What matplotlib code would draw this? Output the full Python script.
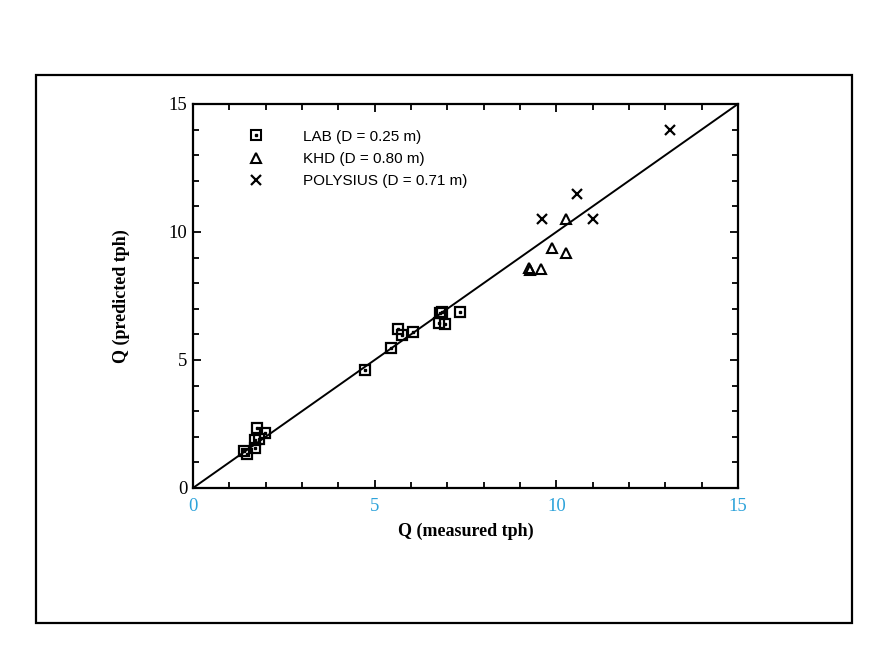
import matplotlib
matplotlib.use("Agg")
import matplotlib.pyplot as plt
from matplotlib.lines import Line2D
from matplotlib.patches import Rectangle
from matplotlib.ticker import MultipleLocator

# Data
lab_x = [1.48, 1.41, 1.72, 1.71, 1.83, 1.77, 1.97, 4.74, 5.45, 5.64, 5.76, 6.06,
         6.80, 6.86, 6.76, 6.94, 7.35]
lab_y = [1.33, 1.46, 1.55, 1.88, 1.90, 2.36, 2.16, 4.61, 5.47, 6.20, 5.96, 6.11,
         6.82, 6.86, 6.43, 6.40, 6.89]
khd_x = [9.26, 9.28, 9.58, 9.87, 10.28, 10.28]
khd_y = [8.58, 8.52, 8.55, 9.38, 9.17, 10.51]
pol_x = [9.62, 10.58, 11.01, 13.14]
pol_y = [10.51, 11.47, 10.51, 13.97]
line_x = [0, 15]
line_y = [0, 15]
xticks = [0, 5, 10, 15]
yticks = [0, 5, 10, 15]
labels = ["LAB (D = 0.25 m)", "KHD (D = 0.80 m)", "POLYSIUS (D = 0.71 m)"]

fig = plt.figure(figsize=(8.86, 6.56), dpi=100)
fig.patch.set_facecolor("white")

# outer frame
fig.add_artist(Rectangle((0.0406, 0.0503), 0.921, 0.8354, transform=fig.transFigure,
                         fill=False, edgecolor="black", linewidth=1.6))

ax = fig.add_axes([0.2178, 0.2561, 0.6151, 0.5854])
ax.set_xlim(0, 15)
ax.set_ylim(0, 15)

ax.plot(line_x, line_y, color="black", linewidth=1.4, zorder=2)

ax.plot(lab_x, lab_y, linestyle="none", marker="s", markersize=7.5,
        markerfacecolor="none", markeredgecolor="black", markeredgewidth=1.6, zorder=3)
ax.plot(lab_x, lab_y, linestyle="none", marker="s", markersize=1.6,
        color="black", zorder=3)
ax.plot(khd_x, khd_y, linestyle="none", marker="^", markersize=7.5,
        markerfacecolor="none", markeredgecolor="black", markeredgewidth=1.5, zorder=3)
ax.plot(pol_x, pol_y, linestyle="none", marker="x", markersize=7,
        color="black", markeredgewidth=1.6, zorder=3)

h_sq = Line2D([], [], linestyle="none", marker="s", markersize=7,
              markerfacecolor="none", markeredgecolor="black", markeredgewidth=1.5)
h_dot = Line2D([], [], linestyle="none", marker="s", markersize=1.6, color="black")
h_tri = Line2D([], [], linestyle="none", marker="^", markersize=7,
               markerfacecolor="none", markeredgecolor="black", markeredgewidth=1.5)
h_crs = Line2D([], [], linestyle="none", marker="x", markersize=7,
               color="black", markeredgewidth=1.6)
leg = ax.legend([(h_sq, h_dot), h_tri, h_crs], labels, loc="upper left",
                bbox_to_anchor=(0.088, 0.953), frameon=False,
                prop={"family": "Liberation Sans", "size": 11},
                handlelength=1.0, handletextpad=2.55, labelspacing=0.55, borderpad=0)

ax.xaxis.set_minor_locator(MultipleLocator(1))
ax.yaxis.set_minor_locator(MultipleLocator(1))
ax.set_xticks(xticks)
ax.set_yticks(yticks)
ax.tick_params(which="both", direction="in", top=True, right=True, width=1.3)
ax.tick_params(which="major", length=6)
ax.tick_params(which="minor", length=4)
ax.tick_params(axis="x", which="major", pad=7, labelcolor="#2ea3da")
ax.tick_params(axis="y", which="major", pad=4, labelcolor="black")
for lab in ax.get_xticklabels() + ax.get_yticklabels():
    lab.set_fontfamily("Liberation Serif")
    lab.set_fontsize(13.5)
for s in ax.spines.values():
    s.set_linewidth(1.6)

ax.set_xlabel("Q (measured tph)", fontfamily="Liberation Serif", fontweight="bold",
              fontsize=13, labelpad=6)
ax.set_ylabel("Q (predicted tph)", fontfamily="Liberation Serif", fontweight="bold",
              fontsize=13, labelpad=28)

fig.savefig("out.png", dpi=100, facecolor="white")
